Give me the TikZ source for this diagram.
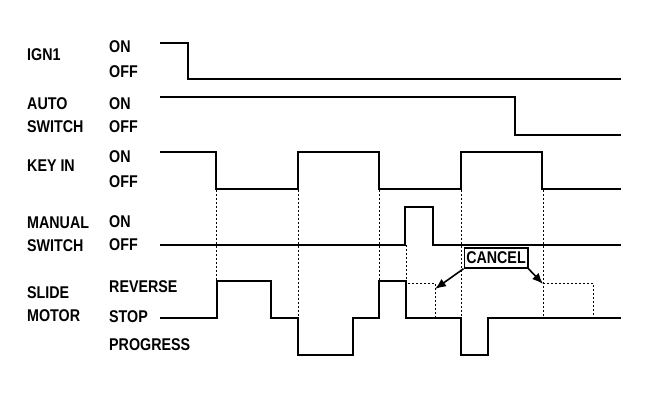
\documentclass[tikz,border=0pt]{standalone}
\usepackage{fontspec}
\usepackage{tikz}
\usetikzlibrary{arrows.meta}
\newfontfamily\tdfont{Liberation Sans}[FakeStretch=0.84]
\tikzset{
  sigline/.style={line width=2.2pt, line join=miter},
  guide/.style={line width=0.8pt, dash pattern=on 2pt off 2pt},
  lbl/.style={anchor=west, inner sep=0pt, font=\tdfont\bfseries\fontsize{17}{17}\selectfont},
  cancelbox/.style={draw, line width=1.5pt, fill=white, inner sep=2pt, minimum height=20pt, font=\tdfont\bfseries\fontsize{17}{17}\selectfont},
  cancelarrow/.style={-{Latex[length=11pt,width=9pt]}, line width=1.6pt}
}
\begin{document}
\begin{tikzpicture}[x=1pt,y=-1pt]
  \useasboundingbox (0,0) rectangle (672,410);
  % signal names
  \node[lbl] (ign) at (27,55) {IGN1};
  \node[lbl] (auto) at (27,104) {AUTO};
  \node[lbl] (autosw) at (27,127) {SWITCH};
  \node[lbl] (key) at (27,166) {KEY IN};
  \node[lbl] (manual) at (27,223) {MANUAL};
  \node[lbl] (manualsw) at (27,246) {SWITCH};
  \node[lbl] (slide) at (27,293) {SLIDE};
  \node[lbl] (motor) at (27,316) {MOTOR};
  % states
  \node[lbl] (ign-on) at (109,47) {ON};
  \node[lbl] (ign-off) at (109,72) {OFF};
  \node[lbl] (auto-on) at (109,104) {ON};
  \node[lbl] (auto-off) at (109,127) {OFF};
  \node[lbl] (key-on) at (109,157) {ON};
  \node[lbl] (key-off) at (109,182) {OFF};
  \node[lbl] (man-on) at (109,222) {ON};
  \node[lbl] (man-off) at (109,245) {OFF};
  \node[lbl] (mot-rev) at (109,287) {REVERSE};
  \node[lbl] (mot-stop) at (109,317) {STOP};
  \node[lbl] (mot-prog) at (109,345) {PROGRESS};
  % guide lines
  \draw[guide] (216,190) -- (216,281);
  \draw[guide] (298,190) -- (298,318);
  \draw[guide] (379,190) -- (379,281);
  \draw[guide] (406,245) -- (406,283) -- (435,283) -- (435,318);
  \draw[guide] (461,190) -- (461,318);
  \draw[guide] (543,190) -- (543,318);
  \draw[guide] (543,283) -- (593,283) -- (593,318);
  % waveforms
  \draw[sigline] (160,43) -- (188,43) -- (188,79) -- (621,79);
  \draw[sigline] (160,97) -- (515,97) -- (515,135) -- (621,135);
  \draw[sigline] (160,152) -- (216,152) -- (216,189) -- (298,189) -- (298,152)
    -- (379,152) -- (379,189) -- (461,189) -- (461,152) -- (542,152)
    -- (542,189) -- (621,189);
  \draw[sigline] (160,245) -- (405,245) -- (405,207) -- (433,207) -- (433,245)
    -- (621,245);
  \draw[sigline] (160,318) -- (217,318) -- (217,281) -- (271,281) -- (271,318)
    -- (298,318) -- (298,355) -- (353,355) -- (353,318) -- (379,318)
    -- (379,281) -- (406,281) -- (406,318) -- (461,318) -- (461,355)
    -- (488,355) -- (488,318) -- (621,318);
  % cancel
  \node[cancelbox] (cancel) at (496,258) {CANCEL};
  \coordinate (revL) at (435,289);
  \coordinate (revR) at (543,284);
  \draw[cancelarrow] (cancel.south west) -- (revL);
  \draw[cancelarrow] (cancel.south east) -- (revR);
\end{tikzpicture}
\end{document}
